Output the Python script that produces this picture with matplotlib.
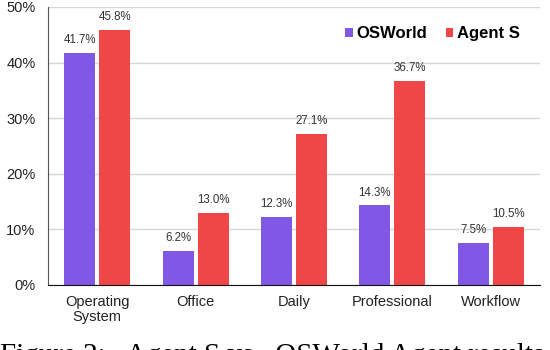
import numpy as np
import matplotlib
matplotlib.use("Agg")
import matplotlib.pyplot as plt

categories = ["Operating\nSystem", "Office", "Daily", "Professional", "Workflow"]
osworld = [41.7, 6.2, 12.3, 14.3, 7.5]
agent_s = [45.8, 13.0, 27.1, 36.7, 10.5]
series_names = ["OSWorld", "Agent S"]
yticks = [0, 10, 20, 30, 40, 50]

purple = "#8158e6"
red = "#ef4648"

plt.rcParams["font.family"] = ["Liberation Sans", "DejaVu Sans"]

fig = plt.figure(figsize=(5.5, 3.5), dpi=100)
ax = fig.add_axes([48 / 550, 1 - 285 / 350, 492 / 550, 278 / 350])

x = np.arange(len(categories))
w = 0.315
off = 0.178
b1 = ax.bar(x - off, osworld, w, color=purple, label=series_names[0], zorder=3)
b2 = ax.bar(x + off, agent_s, w, color=red, label=series_names[1], zorder=3)

for bars, vals in [(b1, osworld), (b2, agent_s)]:
    ax.bar_label(bars, labels=["%.1f%%" % v for v in vals], padding=5,
                 fontsize=8.3, color="#333333")

ax.set_xlim(-0.5, len(categories) - 0.5)
ax.set_ylim(0, 50)
ax.set_yticks(yticks)
ax.set_yticklabels(["%d%%" % t for t in yticks], fontsize=10.5, color="#222222")
ax.set_xticks(x)
ax.set_xticklabels(categories, fontsize=10.5, color="#222222", linespacing=1.1)
ax.tick_params(axis="both", length=0)
ax.tick_params(axis="y", pad=9)
ax.tick_params(axis="x", pad=7)

ax.grid(axis="y", color="#d6d6d6", linewidth=1, zorder=0)
for s in ["top", "right"]:
    ax.spines[s].set_visible(False)
ax.spines["left"].set_color("#555555")
ax.spines["bottom"].set_color("#111111")
ax.spines["bottom"].set_zorder(4)

ax.legend(loc="center right", bbox_to_anchor=(0.96, 0.903), frameon=False,
          ncol=2, prop={"weight": "bold", "size": 12}, handlelength=0.45,
          handleheight=0.45, handletextpad=0.25, columnspacing=1.1,
          borderpad=0, borderaxespad=0)

# caption of the paper figure, cut off at the bottom edge as in the source
fig.text(0.0, 1 - 343 / 350, "Figure 2:   Agent S vs.  OSWorld Agent results",
         fontsize=21, family="Liberation Serif", va="top", ha="left")

fig.savefig("out.png", dpi=100)
